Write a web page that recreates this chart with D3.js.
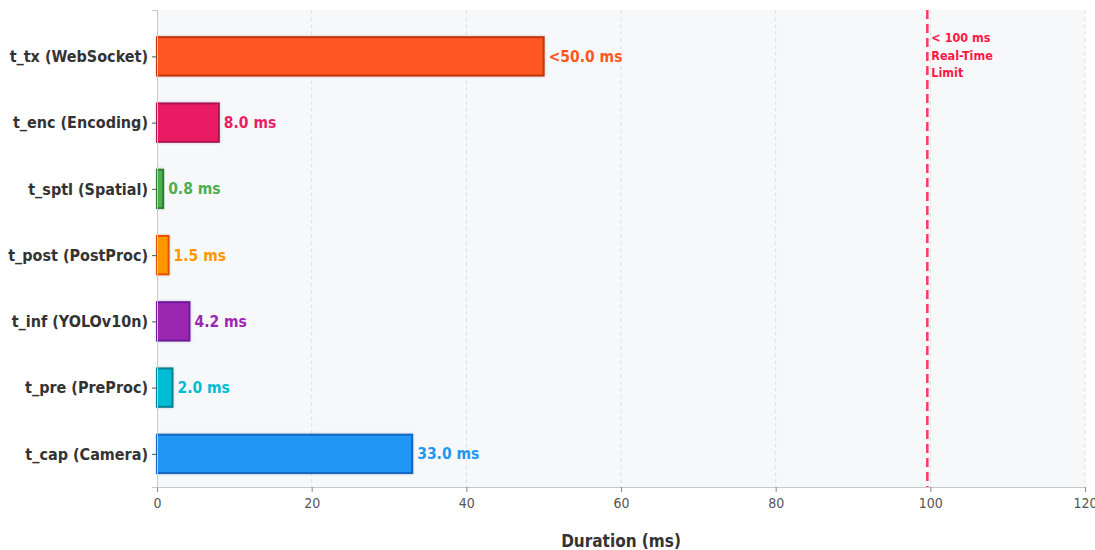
<!DOCTYPE html>
<html>
<head>
<meta charset="utf-8">
<script src="https://cdn.jsdelivr.net/npm/d3@7"></script>
<style>
  html, body { margin: 0; padding: 0; background: #ffffff; }
  svg { display: block; font-family: "DejaVu Sans", sans-serif; }
</style>
</head>
<body>
<svg id="chart" width="1095" height="550"></svg>
<script>
// Pipeline stage latencies (ms), listed bottom to top
const stages = ["t_cap (Camera)", "t_pre (PreProc)", "t_inf (YOLOv10n)", "t_post (PostProc)", "t_sptl (Spatial)", "t_enc (Encoding)", "t_tx (WebSocket)"];
const durations = [33.0, 2.0, 4.2, 1.5, 0.8, 8.0, 50.0];
const valueLabels = ["33.0 ms", "2.0 ms", "4.2 ms", "1.5 ms", "0.8 ms", "8.0 ms", "<50.0 ms"];
const fills = ["#2196F3", "#00BCD4", "#9C27B0", "#FF9800", "#4CAF50", "#E91E63", "#FF5722"];
const edges = ["#1565C0", "#00838F", "#6A1B9A", "#E65100", "#2E7D32", "#AD1457", "#BF360C"];
const xTicks = [0, 20, 40, 60, 80, 100, 120];
const limitValue = 100;
const limitLines = ["< 100 ms", "Real-Time", "Limit"];

const svg = d3.select("#chart");
const margin = { left: 157, right: 10, top: 10, bottom: 63 };
const W = 1095, H = 550;
const condensed = "'DejaVu Sans Condensed', 'DejaVu Sans', sans-serif";

const x = d3.scaleLinear().domain([0, 120]).range([margin.left, W - margin.right]);
const y = d3.scaleLinear().domain([-0.5, 6.7]).range([H - margin.bottom, margin.top]);
const barH = y(0) - y(0.58);

// soft shadow under the bars
const defs = svg.append("defs");
const f = defs.append("filter").attr("id", "shadow").attr("x", "-20%").attr("y", "-40%").attr("width", "140%").attr("height", "180%");
f.append("feDropShadow").attr("dx", 0).attr("dy", 0).attr("stdDeviation", 1.5).attr("flood-color", "#000").attr("flood-opacity", 0.18);

// plot background
svg.append("rect")
  .attr("x", x(0)).attr("y", y(6.7))
  .attr("width", x(120) - x(0)).attr("height", y(-0.5) - y(6.7))
  .attr("fill", "#f7f8fa");

// vertical dashed grid
svg.append("g").selectAll("line").data(xTicks.filter(d => d > 0)).join("line")
  .attr("x1", d => x(d)).attr("x2", d => x(d))
  .attr("y1", y(6.7)).attr("y2", y(-0.5))
  .attr("stroke", "#dcdde0").attr("stroke-width", 0.9)
  .attr("stroke-dasharray", "4,3");

// bars
const idx = d3.range(stages.length);
svg.append("g").selectAll("rect").data(idx).join("rect")
  .attr("x", x(0))
  .attr("y", i => y(i) - barH / 2)
  .attr("width", i => x(durations[i]) - x(0))
  .attr("height", barH)
  .attr("fill", i => fills[i])
  .attr("stroke", i => edges[i])
  .attr("stroke-width", 2)
  .attr("filter", "url(#shadow)");

// value labels
svg.append("g").selectAll("text").data(idx).join("text")
  .attr("x", i => x(durations[i]) + 5)
  .attr("y", i => y(i))
  .attr("dy", "0.35em")
  .attr("fill", i => fills[i])
  .attr("font-weight", "bold")
  .attr("font-size", 15.5)
  .attr("font-family", condensed)
  .text(i => valueLabels[i]);

// real-time limit line
svg.append("line")
  .attr("x1", x(limitValue) - 3).attr("x2", x(limitValue) - 3)
  .attr("y1", y(6.7)).attr("y2", y(-0.5))
  .attr("stroke", "#FF1744").attr("stroke-opacity", 0.85)
  .attr("stroke-width", 2.5)
  .attr("stroke-dasharray", "9,5");

svg.append("text")
  .attr("x", x(limitValue) + 1)
  .attr("y", 42)
  .attr("fill", "#FF1744")
  .attr("font-weight", "bold")
  .attr("font-size", 12.5)
  .attr("font-family", condensed)
  .selectAll("tspan").data(limitLines).join("tspan")
  .attr("x", x(limitValue) + 1)
  .attr("dy", (d, i) => i === 0 ? 0 : 17.5)
  .text(d => d);

// x axis
const xAxis = svg.append("g")
  .attr("transform", `translate(0,${y(-0.5)})`)
  .call(d3.axisBottom(x).tickValues(xTicks).tickSize(5).tickPadding(6).tickFormat(d3.format("d")));
xAxis.select(".domain").attr("stroke", "#c8c8c8");
xAxis.selectAll(".tick line").attr("stroke", "#888");
xAxis.selectAll(".tick text").attr("fill", "#555").attr("font-size", 14)
  .attr("font-family", condensed);

// y axis
const yAxis = svg.append("g")
  .attr("transform", `translate(${x(0)},0)`)
  .call(d3.axisLeft(y).tickValues(idx).tickSize(5).tickPadding(4).tickFormat(i => stages[i]));
yAxis.select(".domain").attr("stroke", "#c8c8c8");
yAxis.selectAll(".tick line").attr("stroke", "#555");
yAxis.selectAll(".tick text").attr("fill", "#333").attr("font-size", 16).attr("font-weight", "bold")
  .attr("font-family", condensed);

// axis title
svg.append("text")
  .attr("x", (x(0) + x(120)) / 2)
  .attr("y", 547)
  .attr("text-anchor", "middle")
  .attr("fill", "#333")
  .attr("font-weight", "bold")
  .attr("font-size", 17)
  .attr("font-family", condensed)
  .text("Duration (ms)");
</script>
</body>
</html>
